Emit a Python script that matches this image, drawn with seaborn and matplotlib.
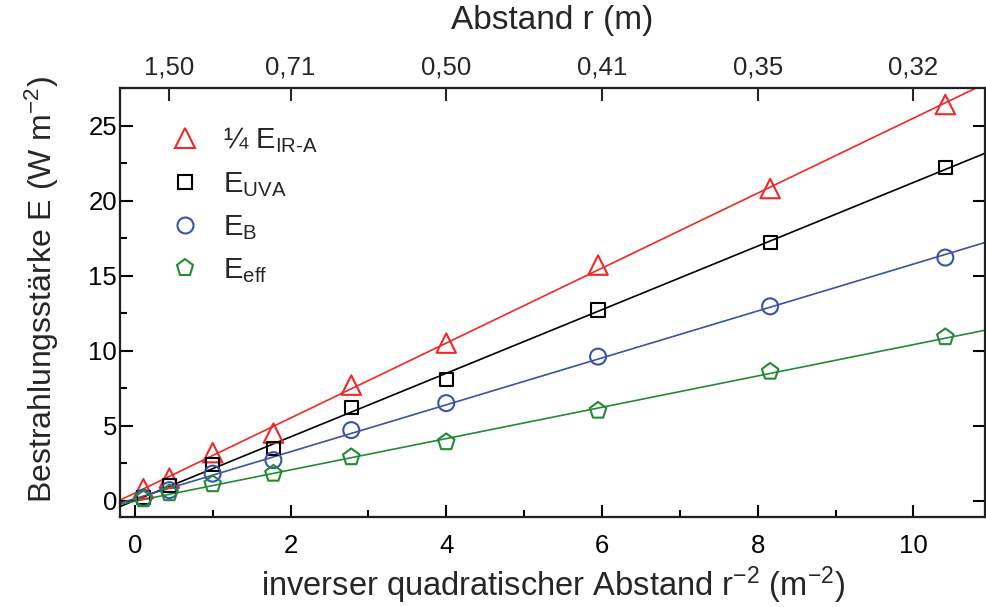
import numpy as np
import pandas as pd
import matplotlib
matplotlib.use("Agg")
import matplotlib.pyplot as plt
from matplotlib.lines import Line2D
from matplotlib.ticker import MultipleLocator
import seaborn as sns

# ---- data ----
x_inv_sq = [0.11, 0.444, 1.0, 1.78, 2.78, 4.0, 5.95, 8.16, 10.41]
e_ir_a_quarter = [0.8, 1.5, 3.2, 4.5, 7.7, 10.5, 15.7, 20.8, 26.4]
e_uva = [0.2, 1.0, 2.4, 3.5, 6.2, 8.1, 12.7, 17.2, 22.2]
e_b = [0.2, 0.7, 1.8, 2.7, 4.7, 6.5, 9.6, 12.95, 16.2]
e_eff = [0.1, 0.5, 1.1, 1.8, 2.9, 3.9, 6.0, 8.6, 10.9]

series_names = ["¼ E$_\\mathregular{IR‐A}$", "E$_\\mathregular{UVA}$", "E$_\\mathregular{B}$", "E$_\\mathregular{eff}$"]
top_tick_pos = [1 / 1.5 ** 2, 2, 4, 6, 8, 10]
top_tick_labels = ["1,50", "0,71", "0,50", "0,41", "0,35", "0,32"]

sns.set_theme(style="ticks")
plt.rcParams["font.family"] = ["Liberation Sans", "DejaVu Sans"]
plt.rcParams["mathtext.fontset"] = "custom"
plt.rcParams["mathtext.rm"] = "Liberation Sans"
plt.rcParams["mathtext.it"] = "Liberation Sans"
plt.rcParams["mathtext.default"] = "regular"

fig = plt.figure(figsize=(9.87, 6.07), dpi=100)
ax = fig.add_axes([0.1216, 0.148, 0.8764, 0.707])
ax.set_xlim(-0.19, 10.92)
ax.set_ylim(-1.1, 27.5)

styles = [
    ("#f02828", "^", 14),
    ("#000000", "s", 9.5),
    ("#3a52a8", "o", 11.5),
    ("#258a35", "p", 12.5),
]
ys = [e_ir_a_quarter, e_uva, e_b, e_eff]

handles = []
for name, y, (col, mk, ms) in zip(series_names, ys, styles):
    df = pd.DataFrame({"x": x_inv_sq, "y": y})
    sns.regplot(data=df, x="x", y="y", ax=ax, ci=None, truncate=False, scatter=False,
                line_kws=dict(color=col, lw=1.2))
    sns.scatterplot(data=df, x="x", y="y", ax=ax, marker=mk, s=ms ** 2,
                    facecolor="none", edgecolor=col, linewidth=1.5, zorder=3)
    handles.append(Line2D([], [], ls="", marker=mk, ms=ms, mfc="none", mec=col, mew=1.5, label=name))

ax.set_xlim(-0.19, 10.92)
ax.set_ylim(-1.1, 27.5)

ax.xaxis.set_major_locator(MultipleLocator(2))
ax.xaxis.set_minor_locator(MultipleLocator(1))
ax.yaxis.set_major_locator(MultipleLocator(5))
ax.yaxis.set_minor_locator(MultipleLocator(2.5))
ax.tick_params(which="both", direction="in", width=1.5, labelsize=18.5, colors="black")
ax.tick_params(which="major", length=9, top=False, right=True)
ax.tick_params(which="minor", length=5, top=False, right=False)
ax.tick_params(axis="x", pad=12)
ax.tick_params(axis="y", pad=2)
for s in ax.spines.values():
    s.set_linewidth(1.6)
    s.set_color("black")
    s.set_visible(True)

ax.set_xlabel("inverser quadratischer Abstand r$^{−2}$ (m$^{−2}$)", fontsize=23.5, labelpad=5)
ax.set_ylabel("Bestrahlungsstärke E (W m$^{−2}$)", fontsize=23, va="center")
ax.yaxis.set_label_coords(-0.09, 0.53)

ax2 = ax.twiny()
ax2.set_xlim(ax.get_xlim())
ax2.set_xticks(top_tick_pos)
ax2.set_xticklabels(top_tick_labels)
ax2.tick_params(direction="in", length=9, width=1.5, labelsize=18.5, pad=6)
ax2.set_xlabel("Abstand r (m)", fontsize=24, labelpad=19)

leg = ax.legend(handles=handles, loc="upper left", bbox_to_anchor=(0.028, 0.94), frameon=False,
                fontsize=21, handletextpad=0.3, labelspacing=0.5, borderaxespad=0)

fig.savefig("out.png", dpi=100)
